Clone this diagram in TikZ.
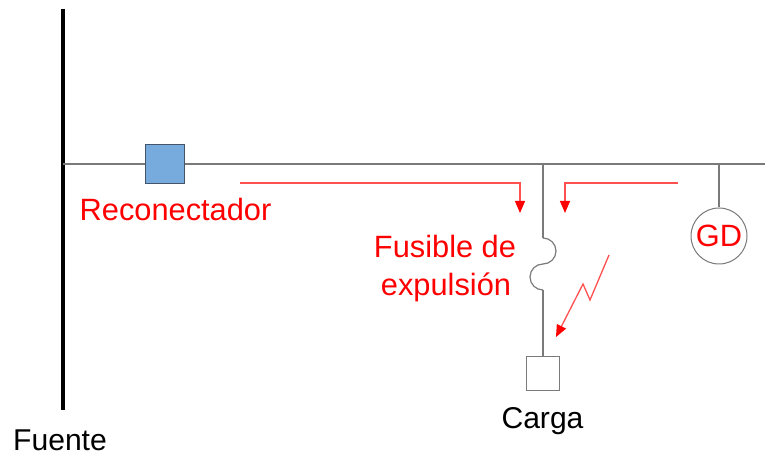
\documentclass[tikz,border=0pt]{standalone}
\usepackage{fontspec}
\setmainfont{Liberation Sans}
\usetikzlibrary{arrows.meta,calc}
\definecolor{wire}{HTML}{7A7A7A}
\definecolor{boxblue}{HTML}{78ABDD}
\definecolor{boxedge}{HTML}{44546A}
\definecolor{faultred}{HTML}{FF5050}
\tikzset{
  wireline/.style={draw=wire,line width=1.2bp},
  faultline/.style={draw=faultred,line width=1.3bp,-{Triangle[length=12bp,width=10bp,color=red,fill=red]}},
  labeltext/.style={font=\fontsize{30.9}{38}\selectfont,inner sep=0pt,anchor=base},
  blacktext/.style={font=\fontsize{30.2}{38}\selectfont,inner sep=0pt,anchor=base},
  redtext/.style={labeltext,text=red}
}
\begin{document}
\begin{tikzpicture}[x=1bp,y=-1bp]
\useasboundingbox (0,0) rectangle (765,458);
\fill[white] (0,0) rectangle (765,458);
% bus
\coordinate (busT) at (62.5,9);
\coordinate (busB) at (62.5,410);
\coordinate (busM) at (62.5,164);
\coordinate (lineEnd) at (765,164);
\coordinate (tapB) at (543,164);
\coordinate (tapG) at (719,164);
\coordinate (fuseT) at (543,238);
\coordinate (fuseB) at (543,290);
\draw[black,line width=4bp] (busT) -- (busB);
\draw[wireline] (busM) -- (lineEnd);
\node[draw=boxedge,line width=1bp,fill=boxblue,minimum size=38.5bp,inner sep=0pt] (rec) at (165,164) {};
\node[draw=wire,line width=1bp,fill=white,minimum size=33bp,inner sep=0pt] (load) at (543,373.5) {};
\node[draw=wire,line width=1bp,fill=white,circle,minimum size=56bp,inner sep=0pt,text=red,font=\fontsize{30.9}{36}\selectfont] (gd) at (719,236) {GD};
\draw[wireline] (tapG) -- (gd.north);
\draw[wireline] (tapB) -- (fuseT);
\draw[wireline] (fuseT) arc[start angle=90,end angle=-90,radius=13bp]
                arc[start angle=90,end angle=270,radius=13bp];
\draw[wireline] (fuseB) -- (load.north);
% fault current arrows
\coordinate (a1) at (240,183);
\coordinate (a1c) at (520,183);
\coordinate (a1e) at (520,213);
\coordinate (a2) at (678,183);
\coordinate (a2c) at (565,183);
\coordinate (a2e) at (565,213);
\draw[faultline] (a1) -- (a1c) -- (a1e);
\draw[faultline] (a2) -- (a2c) -- (a2e);
\coordinate (f1) at (609,255);
\coordinate (f2) at (590,300);
\coordinate (f3) at (583,284);
\coordinate (f4) at (556,337);
\draw[faultline] (f1) -- (f2) -- (f3) -- (f4);
% labels
\node[redtext] (lrec) at (175.5,221) {Reconectador};
\node[redtext] (lf1) at (445,257.5) {Fusible de};
\node[redtext] (lf2) at (446,295.5) {expulsión};
\node[blacktext] (lload) at (542.5,428) {Carga};
\node[blacktext] (lsrc) at (60,450) {Fuente};
\end{tikzpicture}
\end{document}
